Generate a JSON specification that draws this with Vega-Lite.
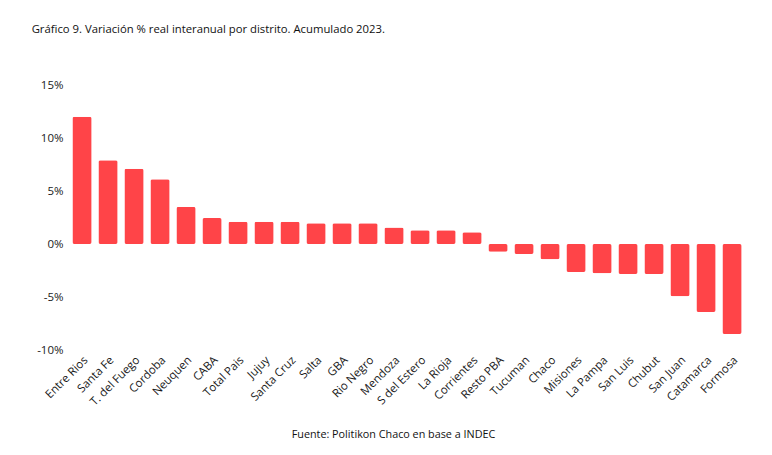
{
  "$schema": "https://vega.github.io/schema/vega-lite/v6.json",
  "width": 676,
  "height": 265,
  "autosize": "none",
  "padding": {"left": 69, "top": 85, "right": 27, "bottom": 105},
  "background": "white",
  "title": {
    "text": "Gráfico 9. Variación % real interanual por distrito. Acumulado 2023.",
    "anchor": "start",
    "dx": -5,
    "offset": 44,
    "font": "Open Sans",
    "fontSize": 11.3,
    "fontWeight": "normal",
    "color": "#111111"
  },
  "data": {
    "values": [
      {"distrito": "Entre Rios", "var": 12.0},
      {"distrito": "Santa Fe", "var": 7.9},
      {"distrito": "T. del Fuego", "var": 7.1},
      {"distrito": "Cordoba", "var": 6.1},
      {"distrito": "Neuquen", "var": 3.5},
      {"distrito": "CABA", "var": 2.45},
      {"distrito": "Total Pais", "var": 2.1},
      {"distrito": "Jujuy", "var": 2.1},
      {"distrito": "Santa Cruz", "var": 2.1},
      {"distrito": "Salta", "var": 1.95},
      {"distrito": "GBA", "var": 1.95},
      {"distrito": "Rio Negro", "var": 1.95},
      {"distrito": "Mendoza", "var": 1.55},
      {"distrito": "S del Estero", "var": 1.3},
      {"distrito": "La Rioja", "var": 1.3},
      {"distrito": "Corrientes", "var": 1.1},
      {"distrito": "Resto PBA", "var": -0.72},
      {"distrito": "Tucuman", "var": -0.94},
      {"distrito": "Chaco", "var": -1.45},
      {"distrito": "Misiones", "var": -2.64},
      {"distrito": "La Pampa", "var": -2.77},
      {"distrito": "San Luis", "var": -2.83},
      {"distrito": "Chubut", "var": -2.83},
      {"distrito": "San Juan", "var": -4.94},
      {"distrito": "Catamarca", "var": -6.42},
      {"distrito": "Formosa", "var": -8.5}
    ]
  },
  "mark": {"type": "bar", "color": "#FF4448", "cornerRadius": 2},
  "encoding": {
    "x": {
      "field": "distrito",
      "type": "nominal",
      "sort": null,
      "scale": {"paddingInner": 0.26, "paddingOuter": 0.13},
      "axis": {
        "title": "Fuente: Politikon Chaco en base a INDEC",
        "titleFont": "Open Sans",
        "titleFontSize": 10.8,
        "titleFontWeight": "normal",
        "titleColor": "#111111",
        "titleX": 324,
        "titleY": 78,
        "labelAngle": -45,
        "labelFont": "Open Sans",
        "labelFontSize": 11.5,
        "labelColor": "#1a1a1a",
        "labelPadding": 4,
        "domain": false,
        "ticks": false,
        "grid": false
      }
    },
    "y": {
      "field": "var",
      "type": "quantitative",
      "scale": {"domain": [-10, 15], "nice": false, "zero": false},
      "axis": {
        "title": null,
        "values": [-10, -5, 0, 5, 10, 15],
        "labelExpr": "datum.value + '%'",
        "labelFont": "Open Sans",
        "labelFontSize": 11.5,
        "labelColor": "#1a1a1a",
        "labelPadding": 6,
        "domain": false,
        "ticks": false,
        "grid": false
      }
    }
  },
  "config": {"view": {"stroke": null}}
}
